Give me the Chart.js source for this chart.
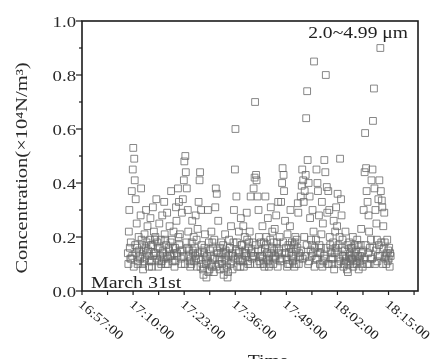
<!DOCTYPE html>
<html><head><meta charset="utf-8">
<script src="https://cdn.jsdelivr.net/npm/chart.js@4.4.0/dist/chart.umd.min.js"></script>
<style>html,body{margin:0;padding:0;background:#fff}</style>
</head><body>
<canvas id="c" width="434" height="359"></canvas>
<script>
// ---- data ----
const axisStart = '16:57:00';
const axisEnd = '18:22:30';
const xTickLabels = ['16:57:00','17:10:00','17:23:00','17:36:00','17:49:00','18:02:00','18:15:00'];
const xTickStepMin = 13;
const yTickLabels = ['0.0','0.2','0.4','0.6','0.8','1.0'];
const seriesLabel = '2.0~4.99 \u03bcm';
const dateLabel = 'March 31st';
const xTitle = 'Time';
const yTitle = 'Concentration(\u00d710\u2074N/m\u00b3)';
const sampleStart = '17:08:40';
const sampleSeconds = 7.5;
// concentration (x10^4 N/m^3), 8 samples per minute
const concentration = [
0.14,0.10,0.22,0.30,0.16,0.12,0.18,0.12,
0.37,0.13,0.45,0.53,0.09,0.49,0.41,0.17,
0.34,0.14,0.25,0.16,0.10,0.11,0.20,0.15,
0.13,0.12,0.28,0.38,0.19,0.17,0.10,0.08,
0.15,0.11,0.21,0.12,0.16,0.30,0.18,0.14,
0.24,0.15,0.13,0.09,0.11,0.19,0.27,0.17,
0.11,0.09,0.17,0.31,0.13,0.22,0.14,0.19,
0.20,0.14,0.34,0.12,0.18,0.16,0.09,0.11,
0.25,0.16,0.13,0.19,0.10,0.11,0.28,0.14,
0.15,0.12,0.33,0.21,0.19,0.10,0.17,0.13,
0.29,0.10,0.12,0.16,0.15,0.24,0.13,0.18,
0.37,0.13,0.19,0.11,0.16,0.22,0.14,0.09,
0.16,0.11,0.31,0.26,0.14,0.13,0.38,0.20,
0.33,0.17,0.21,0.15,0.12,0.10,0.29,0.15,
0.34,0.13,0.41,0.48,0.10,0.50,0.44,0.18,
0.38,0.16,0.30,0.22,0.13,0.15,0.11,0.09,
0.12,0.10,0.18,0.26,0.15,0.14,0.20,0.11,
0.16,0.13,0.28,0.12,0.19,0.09,0.23,0.14,
0.33,0.12,0.41,0.44,0.09,0.30,0.17,0.15,
0.10,0.08,0.06,0.14,0.16,0.21,0.12,0.10,
0.05,0.13,0.11,0.30,0.07,0.18,0.08,0.15,
0.13,0.10,0.22,0.09,0.18,0.16,0.12,0.07,
0.19,0.12,0.31,0.38,0.09,0.36,0.15,0.14,
0.26,0.10,0.12,0.08,0.16,0.14,0.18,0.11,
0.10,0.14,0.17,0.06,0.08,0.12,0.21,0.15,
0.14,0.11,0.09,0.05,0.07,0.13,0.19,0.16,
0.16,0.10,0.24,0.11,0.14,0.08,0.13,0.18,
0.30,0.12,0.45,0.60,0.15,0.35,0.18,0.09,
0.12,0.14,0.22,0.15,0.11,0.09,0.27,0.17,
0.17,0.12,0.11,0.24,0.09,0.14,0.20,0.15,
0.13,0.14,0.29,0.19,0.11,0.10,0.16,0.18,
0.22,0.10,0.35,0.14,0.15,0.12,0.18,0.13,
0.38,0.13,0.42,0.70,0.17,0.43,0.41,0.10,
0.35,0.15,0.30,0.20,0.11,0.13,0.10,0.18,
0.15,0.13,0.24,0.12,0.10,0.18,0.09,0.16,
0.35,0.17,0.20,0.14,0.12,0.27,0.11,0.09,
0.13,0.10,0.19,0.31,0.14,0.16,0.22,0.12,
0.10,0.18,0.15,0.23,0.13,0.12,0.28,0.16,
0.18,0.09,0.33,0.14,0.15,0.20,0.11,0.12,
0.33,0.12,0.40,0.455,0.18,0.43,0.37,0.14,
0.26,0.14,0.16,0.12,0.09,0.21,0.10,0.17,
0.14,0.10,0.24,0.30,0.16,0.13,0.18,0.12,
0.11,0.13,0.17,0.09,0.18,0.20,0.15,0.10,
0.19,0.16,0.325,0.29,0.10,0.14,0.12,0.13,
0.35,0.15,0.39,0.45,0.12,0.41,0.33,0.20,
0.37,0.13,0.43,0.64,0.17,0.74,0.485,0.10,
0.40,0.11,0.35,0.27,0.15,0.19,0.13,0.17,
0.30,0.14,0.22,0.85,0.09,0.16,0.12,0.19,
0.45,0.12,0.40,0.37,0.14,0.28,0.17,0.10,
0.14,0.16,0.21,0.33,0.09,0.25,0.11,0.13,
0.485,0.12,0.44,0.80,0.16,0.385,0.29,0.10,
0.37,0.10,0.30,0.20,0.17,0.15,0.12,0.14,
0.10,0.12,0.18,0.26,0.08,0.14,0.22,0.16,
0.31,0.15,0.24,0.36,0.10,0.17,0.12,0.20,
0.49,0.11,0.34,0.28,0.16,0.19,0.13,0.09,
0.10,0.13,0.15,0.22,0.11,0.12,0.08,0.17,
0.07,0.10,0.13,0.18,0.14,0.11,0.16,0.12,
0.12,0.16,0.20,0.09,0.10,0.14,0.17,0.13,
0.15,0.11,0.10,0.19,0.17,0.13,0.08,0.12,
0.11,0.13,0.17,0.23,0.10,0.14,0.09,0.15,
0.30,0.12,0.44,0.585,0.17,0.455,0.37,0.10,
0.33,0.14,0.28,0.22,0.10,0.16,0.12,0.19,
0.41,0.12,0.45,0.63,0.16,0.75,0.38,0.10,
0.30,0.15,0.25,0.19,0.11,0.13,0.34,0.17,
0.41,0.13,0.90,0.37,0.18,0.335,0.31,0.10,
0.24,0.16,0.29,0.18,0.12,0.13,0.10,0.14,
0.19,0.11,0.15,0.12,0.16,0.09,0.14,0.13
];

// ---- helpers ----
function hmsToMin(s){ const p=s.split(':').map(Number); return p[0]*60+p[1]+(p[2]||0)/60; }
const t0 = hmsToMin(axisStart);
const tStart = hmsToMin(sampleStart) - t0;
const points = concentration.map((v,i)=>({x: tStart + i*sampleSeconds/60, y: v}));

const SERIF = '"Liberation Serif", "Times New Roman", serif';
function txt(ctx, s, x, y, o){
  ctx.save();
  ctx.translate(x,y);
  if (o.rot) ctx.rotate(o.rot);
  ctx.scale(o.sx||1.2, 1);
  ctx.font = o.font;
  ctx.textAlign = o.align||'left';
  ctx.textBaseline = o.base||'alphabetic';
  ctx.fillStyle = o.color||'#222';
  ctx.fillText(s,0,0);
  ctx.restore();
}
function seg(ctx,x1,y1,x2,y2){ ctx.beginPath(); ctx.moveTo(x1,y1); ctx.lineTo(x2,y2); ctx.stroke(); }

const overlay = {
  id:'overlay',
  afterDraw(chart){
    const ctx = chart.ctx, a = chart.chartArea, xs = chart.scales.x, ys = chart.scales.y;
    ctx.save();
    ctx.strokeStyle = '#1c1c1c';
    ctx.lineWidth = 1.6;
    ctx.strokeRect(a.left, a.top, a.right-a.left, a.bottom-a.top);
    ctx.lineWidth = 1.2;
    // y ticks (major every 0.2, minor every 0.1)
    for (let i=0;i<=10;i++){
      const py = ys.getPixelForValue(i/10);
      const len = (i%2===0)?6:3;
      seg(ctx, a.left-len, py, a.left, py);
    }
    yTickLabels.forEach(l=>{
      const py = ys.getPixelForValue(parseFloat(l));
      txt(ctx, l, a.left-6, py+2, {font:'15px '+SERIF, align:'right', base:'middle', sx:1.25, color:'#2a2a2a'});
    });
    // x ticks (major every 13 min with label, minor halfway)
    const xmax = xs.max;
    for (let k=0; k*xTickStepMin/2 <= xmax; k++){
      const px = xs.getPixelForValue(k*xTickStepMin/2);
      seg(ctx, px, a.bottom, px, a.bottom+4);
    }
    xTickLabels.forEach((l,i)=>{
      const px = xs.getPixelForValue(hmsToMin(l)-t0);
      txt(ctx, l, px+2, a.bottom+7, {font:'13px '+SERIF, base:'top', rot:40*Math.PI/180, sx:1.17});
    });
    // titles and annotations
    txt(ctx, yTitle, 23, (a.top+a.bottom)/2+12, {font:'16.5px '+SERIF, align:'center', base:'middle', rot:-Math.PI/2, sx:1.24, color:'#2a2a2a'});
    txt(ctx, xTitle, 268, 366, {font:'17px '+SERIF, align:'center', sx:1.15});
    txt(ctx, seriesLabel, a.right-10, 38, {font:'17px '+SERIF, align:'right', sx:1.15});
    txt(ctx, dateLabel, a.left+9, a.bottom-3, {font:'17.5px '+SERIF, align:'left', sx:1.14});
    ctx.restore();
  }
};

new Chart(document.getElementById('c'), {
  type:'scatter',
  data:{ datasets:[{
    label: seriesLabel,
    data: points,
    pointStyle:'rect',
    pointRadius:4.8,
    pointBorderWidth:1,
    pointBorderColor:'rgba(105,105,105,0.8)',
    pointBackgroundColor:'rgba(0,0,0,0)'
  }]},
  options:{
    responsive:false,
    animation:false,
    devicePixelRatio:1,
    layout:{padding:{left:82,right:16,top:21,bottom:68}},
    plugins:{legend:{display:false},tooltip:{enabled:false}},
    scales:{
      x:{type:'linear',display:false,min:0,max:hmsToMin(axisEnd)-t0},
      y:{type:'linear',display:false,min:0,max:1}
    }
  },
  plugins:[overlay]
});
</script>
</body></html>
